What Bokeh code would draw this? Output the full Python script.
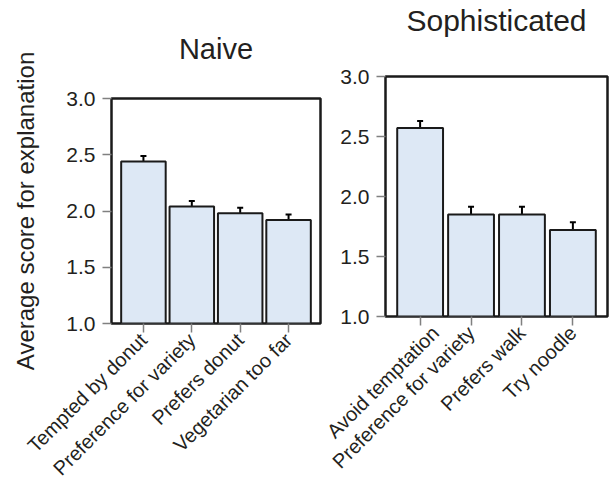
import math
from bokeh.plotting import figure
from bokeh.layouts import row
from bokeh.models import (ColumnDataSource, FactorRange, Range1d, Whisker, TeeHead,
                          PrintfTickFormatter, FixedTicker, Title)
from bokeh.embed import file_html
from bokeh.resources import INLINE

naive_cats = ["Tempted by donut", "Preference for variety", "Prefers donut", "Vegetarian too far"]
naive_vals = [2.44, 2.04, 1.98, 1.92]
naive_err = [0.05, 0.05, 0.05, 0.05]

soph_cats = ["Avoid temptation", "Preference for variety", "Prefers walk", "Try noodle"]
soph_vals = [2.57, 1.85, 1.85, 1.72]
soph_err = [0.06, 0.065, 0.065, 0.065]

y_ticks = [1.0, 1.5, 2.0, 2.5, 3.0]
y_label = "Average score for explanation"

FONT = "Liberation Sans"
TXT = "#231f20"
FILL = "#dde8f5"


def panel(cats, vals, errs, title, title_size, spacer, fw, fh, b_left, b_right, b_top,
          pad, bar_w):
    src = ColumnDataSource(dict(
        x=cats, top=vals,
        upper=[v + e for v, e in zip(vals, errs)],
        lower=[v - e for v, e in zip(vals, errs)]))
    p = figure(x_range=FactorRange(factors=cats, range_padding=pad, range_padding_units="absolute"),
               y_range=Range1d(1.0, 3.0), frame_width=fw, frame_height=fh, title=None,
               output_backend="svg", toolbar_location=None, frame_align=False,
               min_border_left=b_left, min_border_right=b_right,
               min_border_top=b_top, min_border_bottom=0)
    # spacer (empty line) between the frame and the title
    p.add_layout(Title(text=" ", text_font_size="1px", standoff=spacer), "above")
    p.add_layout(Title(text=title, text_font=FONT, text_font_size=title_size,
                       text_font_style="normal", text_color=TXT, align="center",
                       standoff=2), "above")
    p.vbar(x="x", top="top", bottom=1.0, width=bar_w, source=src,
           fill_color=FILL, line_color="#1a1a1a", line_width=2)
    p.add_layout(Whisker(source=src, base="x", upper="upper", lower="lower",
                         line_color="black", line_width=2,
                         upper_head=TeeHead(size=6, line_color="black", line_width=2),
                         lower_head=TeeHead(size=6, line_color="black", line_width=2)))
    p.xgrid.grid_line_color = None
    p.ygrid.grid_line_color = None
    p.outline_line_color = "#1a1a1a"
    p.outline_line_width = 2.5
    p.outline_line_alpha = 1.0
    p.background_fill_color = "white"
    p.border_fill_color = None

    p.yaxis.ticker = FixedTicker(ticks=y_ticks)
    p.yaxis.formatter = PrintfTickFormatter(format="%.1f")
    for ax in (p.xaxis[0], p.yaxis[0]):
        ax.axis_line_color = None
        ax.major_tick_in = 0
        ax.major_tick_out = 9
        ax.major_tick_line_color = "#808080"
        ax.major_tick_line_width = 1.5
        ax.minor_tick_line_color = None
        ax.major_label_text_font = FONT
        ax.major_label_text_color = TXT
    p.yaxis.major_label_text_font_size = "21px"
    p.xaxis.major_label_text_font_size = "20px"
    p.yaxis.major_label_standoff = 7
    p.xaxis.major_label_orientation = math.pi / 4
    p.xaxis.major_label_standoff = 4
    return p


left = panel(naive_cats, naive_vals, naive_err, "Naive", "29px", 30,
             fw=209, fh=225, b_left=111, b_right=2, b_top=98, pad=0.16, bar_w=0.92)
left.yaxis.axis_label = y_label
left.yaxis.axis_label_text_font = FONT
left.yaxis.axis_label_text_font_size = "24px"
left.yaxis.axis_label_text_font_style = "normal"
left.yaxis.axis_label_text_color = TXT
left.yaxis.axis_label_standoff = 24

right = panel(soph_cats, soph_vals, soph_err, "Sophisticated", "30px", 36,
              fw=222, fh=240, b_left=63, b_right=3, b_top=73, pad=0.18, bar_w=0.9)

layout = row(left, right, spacing=0)
open("out.html", "w").write(file_html(layout, INLINE))
